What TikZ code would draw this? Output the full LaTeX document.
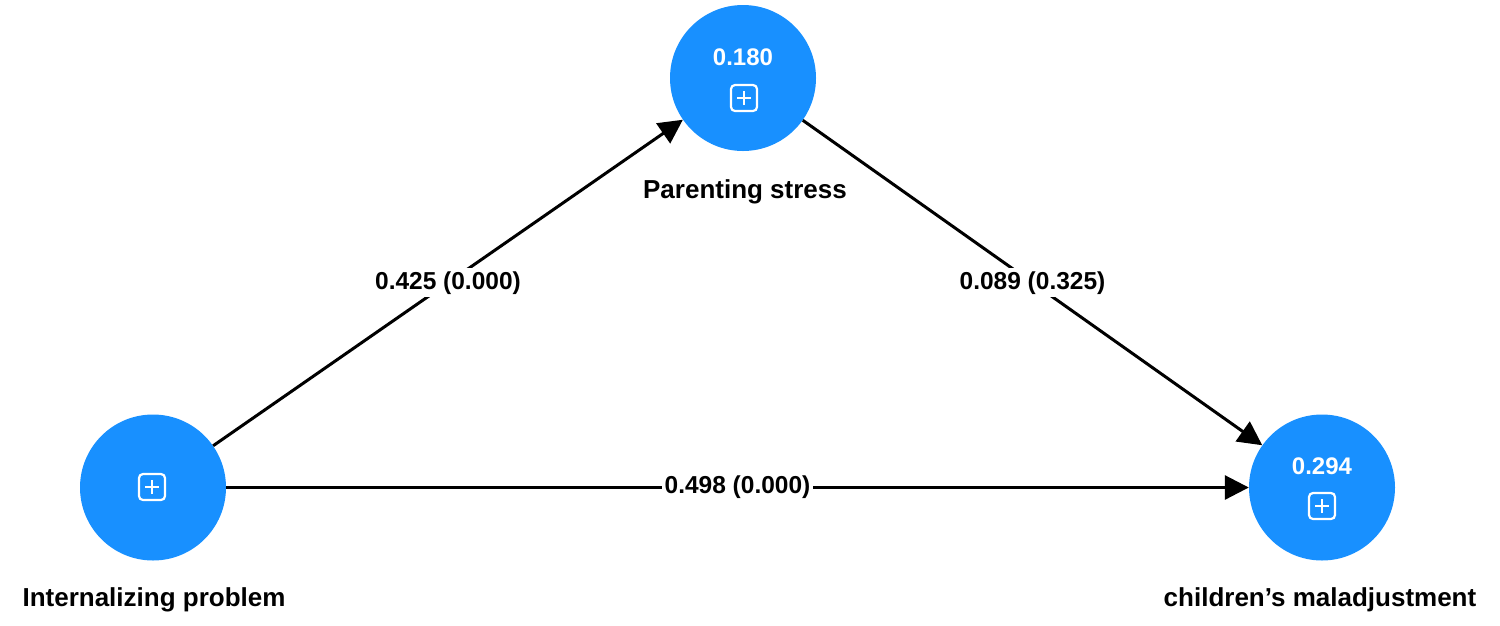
\documentclass[tikz,border=0pt]{standalone}
\usepackage{fontspec}
\setmainfont{Liberation Sans}
\usetikzlibrary{arrows.meta}
\definecolor{nodeblue}{RGB}{24,144,255}
\begin{document}
\begin{tikzpicture}[x=1pt,y=-1pt,
  lv/.style={circle,fill=nodeblue,draw=none,minimum size=146pt,inner sep=0pt},
  nlabel/.style={font=\fontsize{26}{30}\selectfont\bfseries,text=black},
  num/.style={font=\fontsize{24}{28}\selectfont\bfseries,text=white},
  elabel/.style={font=\fontsize{24.5}{28}\selectfont\bfseries,fill=white,inner sep=3pt,text=black},
  path/.style={draw=black,line width=3pt,-{Triangle[length=24pt,width=24pt]}},
  plusicon/.style={draw=white,line width=2.2pt,rounded corners=4pt,minimum size=26pt,inner sep=0pt}
]
\useasboundingbox (0,0) rectangle (1500,625);
\node[lv] (ps) at (743,78) {};
\node[lv] (ip) at (153,487.5) {};
\node[lv] (cm) at (1322,487.5) {};
% numbers
\node[num] (psnum) at (743,57) {0.180};
\node[num] (cmnum) at (1322,466) {0.294};
% plus icons
\foreach \n/\x/\y in {psplus/744/98, ipplus/152/487, cmplus/1322/506}{
  \node[plusicon] (\n) at (\x,\y) {};
  \draw[white,line width=2.2pt] ([xshift=-7pt]\n.center) -- ([xshift=7pt]\n.center);
  \draw[white,line width=2.2pt] ([yshift=-7pt]\n.center) -- ([yshift=7pt]\n.center);
}
% labels
\node[nlabel] (pslab) at (745,192) {Parenting stress};
\node[nlabel] (iplab) at (154,600) {Internalizing problem};
\node[nlabel] (cmlab) at (1320,600) {children’s maladjustment};
% paths
\draw[path] (ip) -- node[elabel] (e1) {0.425 (0.000)} (ps);
\draw[path] (ps) -- node[elabel] (e2) {0.089 (0.325)} (cm);
\draw[path] (ip) -- node[elabel] (e3) {0.498 (0.000)} (cm);
\end{tikzpicture}
\end{document}
